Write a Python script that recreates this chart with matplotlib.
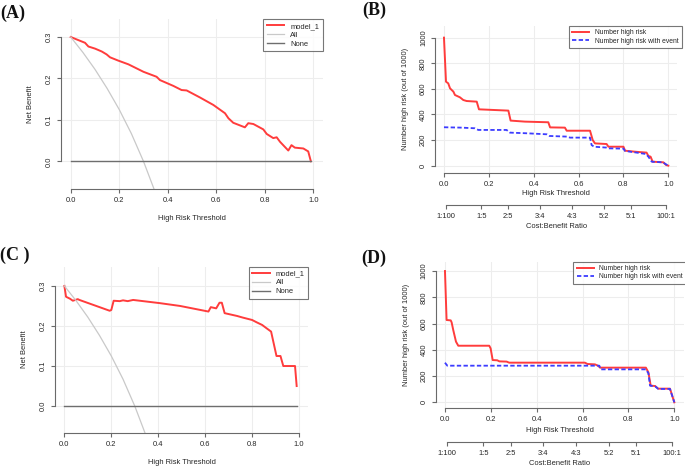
import matplotlib
matplotlib.use('Agg')
import matplotlib.pyplot as plt

plt.rcParams['font.family'] = ['Liberation Sans', 'DejaVu Sans']

# ---------------- data ----------------
# Panel A: decision curve
A_thr = [0.0, 0.025, 0.059, 0.073, 0.10, 0.128, 0.148, 0.162, 0.196, 0.238, 0.30,
         0.354, 0.368, 0.423, 0.457, 0.478, 0.533, 0.588, 0.636, 0.65, 0.67, 0.718,
         0.732, 0.753, 0.794, 0.808, 0.835, 0.849, 0.863, 0.897, 0.91, 0.924, 0.959,
         0.973, 0.979, 0.99]
A_model = [0.300, 0.294, 0.286, 0.277, 0.272, 0.265, 0.258, 0.251, 0.243, 0.234, 0.216,
           0.204, 0.196, 0.182, 0.172, 0.171, 0.154, 0.136, 0.116, 0.104, 0.093, 0.082,
           0.092, 0.090, 0.077, 0.066, 0.056, 0.058, 0.047, 0.026, 0.039, 0.033, 0.031,
           0.026, 0.024, 0.0]
# "All" (treat everyone) curve, same for A and C
all_thr = [0.0, 0.05, 0.10, 0.15, 0.20, 0.25, 0.30, 0.35]
all_nb = [0.300, 0.263, 0.222, 0.176, 0.125, 0.067, 0.000, -0.077]
none_thr = [0.0, 0.99]
none_nb = [0.0, 0.0]

# Panel C: decision curve
C_thr = [0.0, 0.007, 0.024, 0.036, 0.057, 0.064, 0.193, 0.20, 0.21, 0.236, 0.25, 0.27,
         0.293, 0.407, 0.493, 0.614, 0.624, 0.647, 0.661, 0.671, 0.683, 0.736, 0.76,
         0.80, 0.82, 0.843, 0.86, 0.881, 0.904, 0.921, 0.933, 0.983, 0.99]
C_model = [0.300, 0.273, 0.268, 0.263, 0.267, 0.265, 0.238, 0.240, 0.263, 0.262, 0.264,
           0.262, 0.265, 0.257, 0.250, 0.236, 0.247, 0.244, 0.258, 0.258, 0.232, 0.225,
           0.221, 0.215, 0.209, 0.2025, 0.195, 0.186, 0.125, 0.125, 0.100, 0.100, 0.05]

# Panel B: clinical impact
B_thr_high = [0.0, 0.009, 0.019, 0.027, 0.042, 0.049, 0.071, 0.086, 0.101, 0.146, 0.156,
              0.287, 0.297, 0.361, 0.465, 0.473, 0.539, 0.547, 0.651, 0.663, 0.673, 0.725,
              0.733, 0.80, 0.807, 0.851, 0.903, 0.911, 0.921, 0.93, 0.978, 0.99, 1.0]
B_high = [1000, 656, 643, 604, 578, 552, 534, 513, 505, 500, 440, 430, 352, 344, 339, 299,
          297, 273, 273, 200, 174, 169, 148, 148, 117, 109, 102, 76, 70, 31, 26, 5, 0]
B_thr_event = [0.0, 0.079, 0.138, 0.153, 0.279, 0.294, 0.368, 0.458, 0.47, 0.547, 0.562,
               0.651, 0.658, 0.669, 0.725, 0.737, 0.80, 0.807, 0.859, 0.90, 0.911, 0.926,
               0.975, 1.0]
B_event = [300, 297, 292, 279, 279, 258, 253, 245, 232, 227, 219, 219, 161, 148, 141, 135,
           133, 115, 102, 91, 70, 31, 26, 0]

# Panel D: clinical impact
D_thr_high = [0.0, 0.007, 0.025, 0.029, 0.036, 0.048, 0.058, 0.193, 0.199, 0.208, 0.228,
              0.237, 0.269, 0.28, 0.61, 0.621, 0.654, 0.669, 0.676, 0.876, 0.887, 0.897,
              0.916, 0.93, 0.981, 1.0]
D_high = [1000, 627, 624, 609, 551, 462, 431, 431, 411, 322, 320, 312, 310, 302, 302, 292,
          289, 277, 264, 264, 228, 127, 124, 104, 104, 0]
D_thr_event = [0.0, 0.01, 0.673, 0.679, 0.876, 0.887, 0.894, 0.916, 0.93, 0.981, 1.0]
D_event = [302, 279, 279, 251, 251, 221, 127, 122, 102, 102, 0]

# axis ticks / labels
thr_ticks = [0.0, 0.2, 0.4, 0.6, 0.8, 1.0]
thr_labels = ['0.0', '0.2', '0.4', '0.6', '0.8', '1.0']
nb_ticks = [0.0, 0.1, 0.2, 0.3]
nb_labels = ['0.0', '0.1', '0.2', '0.3']
n_ticks = [0, 200, 400, 600, 800, 1000]
n_labels = ['0', '200', '400', '600', '800', '1000']
cb_ticks = [1 / 101, 1 / 6, 2 / 7, 3 / 7, 4 / 7, 5 / 7, 5 / 6, 100 / 101]
cb_labels = ['1:100', '1:5', '2:5', '3:4', '4:3', '5:2', '5:1', '100:1']

# ---------------- styling ----------------
W, H = 685, 468
fig = plt.figure(figsize=(W / 100, H / 100), dpi=100)

RED = '#ff3c3c'
BLUE = '#3c3cff'
ALLC = '#c9c9c9'
NONEC = '#6e6e6e'
AXC = '#6a6a6a'
TXT = '#262626'
GRID = '#ededed'
FS = 5.4


def fx(px):
    return px / W


def fy(py):
    return 1 - py / H


def region(x0, y0, x1, y1):
    return fig.add_axes([fx(x0), fy(y1), (x1 - x0) / W, (y1 - y0) / H])


def style(ax, ylim, yticks, ylabels, xlab_py, ylab_px, ylab_txt, xlab_txt='High Risk Threshold'):
    ax.set_xlim(-0.04, 1.04)
    ax.set_ylim(*ylim)
    ax.set_xticks(thr_ticks, labels=thr_labels)
    ax.set_yticks(yticks, labels=ylabels)
    ax.grid(True, color=GRID, lw=0.8)
    ax.set_axisbelow(True)
    for s in ['top', 'right']:
        ax.spines[s].set_visible(False)
    for s in ['bottom', 'left']:
        ax.spines[s].set_color(AXC)
        ax.spines[s].set_linewidth(0.8)
    ax.spines['bottom'].set_bounds(0, 1)
    ax.spines['left'].set_bounds(yticks[0], yticks[-1])
    ax.tick_params(direction='out', length=2.6, width=0.8, color=AXC,
                   labelsize=FS, labelcolor=TXT, pad=3.2)
    for lb in ax.get_yticklabels():
        lb.set_rotation(90)
        lb.set_va('center')
    bb = ax.get_position()
    ax.set_xlabel(xlab_txt, fontsize=FS, color=TXT, va='center')
    ax.xaxis.set_label_coords(bb.x0 + bb.width / 2, fy(xlab_py), transform=fig.transFigure)
    ax.set_ylabel(ylab_txt, fontsize=FS, color=TXT, va='center')
    ax.yaxis.set_label_coords(fx(ylab_px), bb.y0 + bb.height / 2, transform=fig.transFigure)
    ax.set_facecolor('none')


def cb_axis(ax, line_py, lab_py):
    bb = ax.get_position()
    loc = (fy(line_py) - bb.y0) / bb.height
    sec = ax.secondary_xaxis(loc)
    sec.set_xticks(cb_ticks, labels=cb_labels)
    sec.spines['bottom'].set_bounds(cb_ticks[0], cb_ticks[-1])
    sec.spines['bottom'].set_color(AXC)
    sec.spines['bottom'].set_linewidth(0.8)
    sec.spines['top'].set_visible(False)
    sec.tick_params(direction='out', length=2.6, width=0.8, color=AXC,
                    labelsize=FS, labelcolor=TXT, pad=3.2)
    sec.set_xlabel('Cost:Benefit Ratio', fontsize=FS, color=TXT, va='center')
    sec.xaxis.set_label_coords(bb.x0 + bb.width / 2, fy(lab_py), transform=fig.transFigure)


def legend(ax, loc, anchor, fs=FS, hl=2.3):
    lg = ax.legend(loc=loc, bbox_to_anchor=anchor, fontsize=fs, frameon=True,
                   fancybox=False, borderaxespad=0, handlelength=hl,
                   handletextpad=0.8, labelspacing=0.2, borderpad=0.5)
    lg.get_frame().set_edgecolor('#555555')
    lg.get_frame().set_linewidth(0.8)
    for t in lg.get_texts():
        t.set_color(TXT)
    return lg


# ---------------- Panel A ----------------
axA = region(61, 19, 323, 189)
axA.plot(A_thr, A_model, color=RED, lw=1.4, label='model_1')
axA.plot(all_thr, all_nb, color=ALLC, lw=0.9, label='All')
axA.plot(none_thr, none_nb, color=NONEC, lw=1.0, label='None')
style(axA, (-0.0668, 0.3434), nb_ticks, nb_labels, 219, 30, 'Net Benefit')
legend(axA, 'upper right', (1.0, 1.0))

# ---------------- Panel C ----------------
axC = region(55, 266.7, 308.4, 432.5)
axC.plot(C_thr, C_model, color=RED, lw=1.4, label='model_1')
axC.plot(all_thr, all_nb, color=ALLC, lw=0.9, label='All')
axC.plot(none_thr, none_nb, color=NONEC, lw=1.0, label='None')
style(axC, (-0.066, 0.348), nb_ticks, nb_labels, 462.7, 25, 'Net Benefit')
legend(axC, 'upper right', (1.0, 1.0))

# ---------------- Panel B ----------------
axB = region(435, 26, 677.3, 172.7)
axB.plot(B_thr_high, B_high, color=RED, lw=1.4, label='Number high risk')
axB.plot(B_thr_event, B_event, color=BLUE, lw=1.3, dashes=(2.4, 1.3),
         label='Number high risk with event')
style(axB, (-55, 1091), n_ticks, n_labels, 193.3, 405, 'Number high risk (out of 1000)')
cb_axis(axB, 205, 226)
legend(axB, 'upper left', ((568.7 - 435) / (677.3 - 435), 1.0), fs=4.9, hl=2.5)

# ---------------- Panel D ----------------
axD = region(435.8, 261.7, 683.5, 407.7)
axD.plot(D_thr_high, D_high, color=RED, lw=1.4, label='Number high risk')
axD.plot(D_thr_event, D_event, color=BLUE, lw=1.3, dashes=(2.4, 1.3),
         label='Number high risk with event')
style(axD, (-41, 1071), n_ticks, n_labels, 430, 406.7, 'Number high risk (out of 1000)')
cb_axis(axD, 442.3, 463.3)
legend(axD, 'upper left', ((573.3 - 435.8) / (683.5 - 435.8), 1.0), fs=4.9, hl=2.5)

# ---------------- panel letters ----------------
lab_kw = dict(fontsize=13, fontweight='bold', family=['Liberation Serif', 'DejaVu Serif'],
              color='#111111', va='center', ha='left')
fig.text(fx(0), fy(13), '(A)', **lab_kw)
fig.text(fx(362), fy(10), '(B)', **lab_kw)
fig.text(fx(0), fy(255), '(C )', **lab_kw)
fig.text(fx(361), fy(258), '(D)', **lab_kw)

fig.savefig('out.png', dpi=100)
